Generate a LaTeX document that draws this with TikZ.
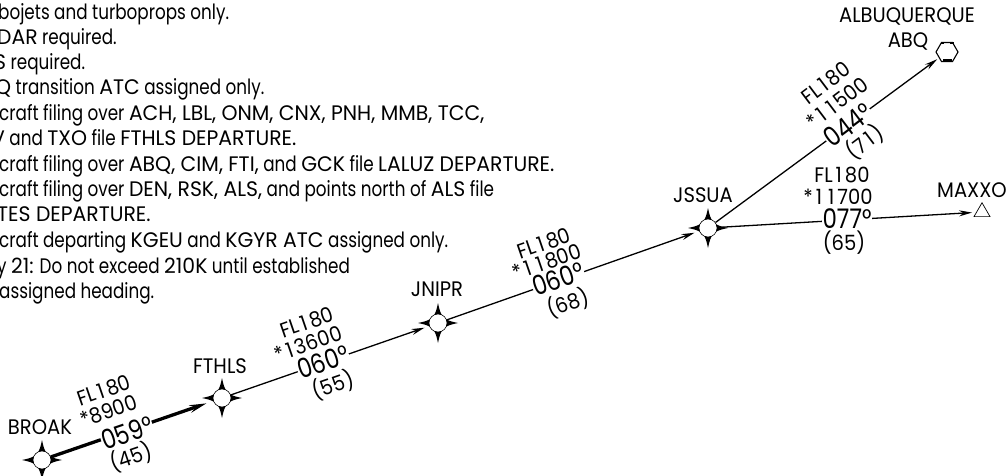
\documentclass[tikz,border=0pt]{standalone}
\usepackage{fontspec}
\setmainfont[FakeStretch=0.8]{Poppins}
\newfontfamily\capfont[FakeStretch=0.93]{Poppins}
\newfontfamily\notecaps[FakeStretch=0.97]{Poppins}
\newfontfamily\brgfont[FakeStretch=0.85]{Poppins}
\newcommand{\K}[1]{{\notecaps #1}}
\newcommand{\one}{\kern3pt 1\kern3pt}
\usetikzlibrary{arrows.meta,shapes.geometric}
\tikzset{
  x=1pt,y=-1pt,
  note/.style={anchor=base west,inner sep=0pt,font=\fontsize{21}{23}\selectfont},
  wname/.style={inner sep=0pt,font=\capfont\fontsize{21}{23}\selectfont},
  small/.style={inner sep=0pt,font=\capfont\fontsize{21}{23}\selectfont},
  brg/.style={inner sep=0.5pt,fill=white,font=\brgfont\fontsize{27}{29}\selectfont},
  hub/.style={circle,draw=black,fill=white,line width=.6pt,minimum size=18pt,inner sep=0pt},
  leg/.style={line width=1.3pt,-{Stealth[length=13pt,width=6pt]}},
  thickleg/.style={line width=3.3pt,-{Stealth[length=17pt,width=7.5pt]}},
}
\newcommand{\spikes}[1]{%
  \fill[shift={(#1)}] (0,-20)
    .. controls (2,-10) and (4,-7) .. (6,-6) .. controls (7,-4) and (10,-2) .. (20,0)
    .. controls (10,2) and (7,4) .. (6,6) .. controls (4,7) and (2,10) .. (0,20)
    .. controls (-2,10) and (-4,7) .. (-6,6) .. controls (-7,4) and (-10,2) .. (-20,0)
    .. controls (-10,-2) and (-7,-4) .. (-6,-6) .. controls (-4,-7) and (-2,-10) .. (0,-20) -- cycle;}
\begin{document}
\begin{tikzpicture}
\useasboundingbox (0,0) rectangle (1006,476);
\node[note] (n1) at (-2,19.5) {bojets and turboprops only.};
\node[note] (n2) at (-3,45) {\K{DAR} required.};
\node[note] (n3) at (-6,70) {\K{S} required.};
\node[note] (n4) at (-5,95) {\K{Q} transition \K{ATC} assigned only.};
\node[note] (n5) at (-1,120.5) {craft filing over \K{ACH, LBL, ONM, CNX, PNH, MMB, TCC,}};
\node[note] (n6) at (-9,146) {\K{V} and \K{TXO} file \K{FTHLS DEPARTURE.}};
\node[note] (n7) at (-1,171) {craft filing over \K{ABQ, CIM, FTI,} and \K{GCK} file \K{LALUZ DEPARTURE.}};
\node[note] (n8) at (-1,196.5) {craft filing over \K{DEN, RSK, ALS,} and points north of \K{ALS} file};
\node[note] (n9) at (-3,221.5) {\K{TES DEPARTURE.}};
\node[note] (n10) at (-1,247.5) {craft departing \K{KGEU} and \K{KGYR ATC} assigned only.};
\node[note] (n11) at (-3,273) {y \K{21:} Do not exceed \K{210K} until established};
\node[note] (n12) at (-1,298) {assigned heading.};
% waypoints
\spikes{42,460}\node[hub] (broak) at (42,460) {};
\spikes{222,398}\node[hub] (fthls) at (222,398) {};
\spikes{438,323}\node[hub] (jnipr) at (438,323) {};
\spikes{708,228}\node[hub] (jssua) at (708,228) {};
\node[regular polygon,regular polygon sides=6,draw,line width=1.1pt,minimum size=22pt,inner sep=0pt] (abq) at (947,52) {};
\fill ([shift={(-4.5,7.2)}]abq.center) rectangle ([shift={(4.5,10.5)}]abq.center);
\fill ([shift={(-6.5,-10.2)}]abq.center) rectangle ([shift={(-3,-7.8)}]abq.center);
\fill ([shift={(3,-10.2)}]abq.center) rectangle ([shift={(6.5,-7.8)}]abq.center);
\node[regular polygon,regular polygon sides=3,draw,line width=.7pt,minimum size=18.5pt,inner sep=0pt] (maxxo) at (982,212) {};
% connectors
\draw[thickleg,shorten >=7pt] (broak) -- (fthls);
\draw[leg,shorten >=5pt] (fthls) -- (jnipr);
\draw[leg,shorten >=5pt] (jnipr) -- (jssua);
\draw[leg,shorten >=2pt] (jssua) -- (abq);
\draw[leg,shorten >=4pt] (jssua) -- (maxxo);
% bearings
\node[brg,rotate=19] (b1) at (127,433) {059°};
\node[brg,rotate=19] (b2) at (323,362) {060°};
\node[brg,rotate=19] (b3) at (558,279) {060°};
\node[brg,rotate=37] (b4) at (848,125) {044°};
\node[brg] (b5) at (847,219) {077°};
% labels
\node[wname] at (40,427) {BROAK};
\node[wname] at (220,366) {FTHLS};
\node[wname] at (437,289) {JNIPR};
\node[wname] at (703,195) {JSSUA};
\node[wname] at (907,16) {ALBUQUERQUE};
\node[wname] at (908,41) {ABQ};
\node[wname] at (972,190) {MAXXO};
\node[small,rotate=19] at (104,390) {FL\one 80};
\node[small,rotate=19] at (109,411) {*8900};
\node[small,rotate=19] at (131,457) {(45)};
\node[small,rotate=19] at (307,322) {FL\one 80};
\node[small,rotate=19] at (308,344) {*\one 3600};
\node[small,rotate=19] at (333,385) {(55)};
\node[small,rotate=19] at (544,243) {FL\one 80};
\node[small,rotate=19] at (547,262) {*\one\one 800};
\node[small,rotate=19] at (568,303) {(68)};
\node[small,rotate=37] at (826,83) {FL\one 80};
\node[small,rotate=37] at (837,103) {*\one\one 500};
\node[small,rotate=37] at (865,142) {(7\one)};
\node[small] at (842,175) {FL\one 80};
\node[small] at (838,197) {*\one\one 700};
\node[small] at (844,243) {(65)};
\end{tikzpicture}
\end{document}
